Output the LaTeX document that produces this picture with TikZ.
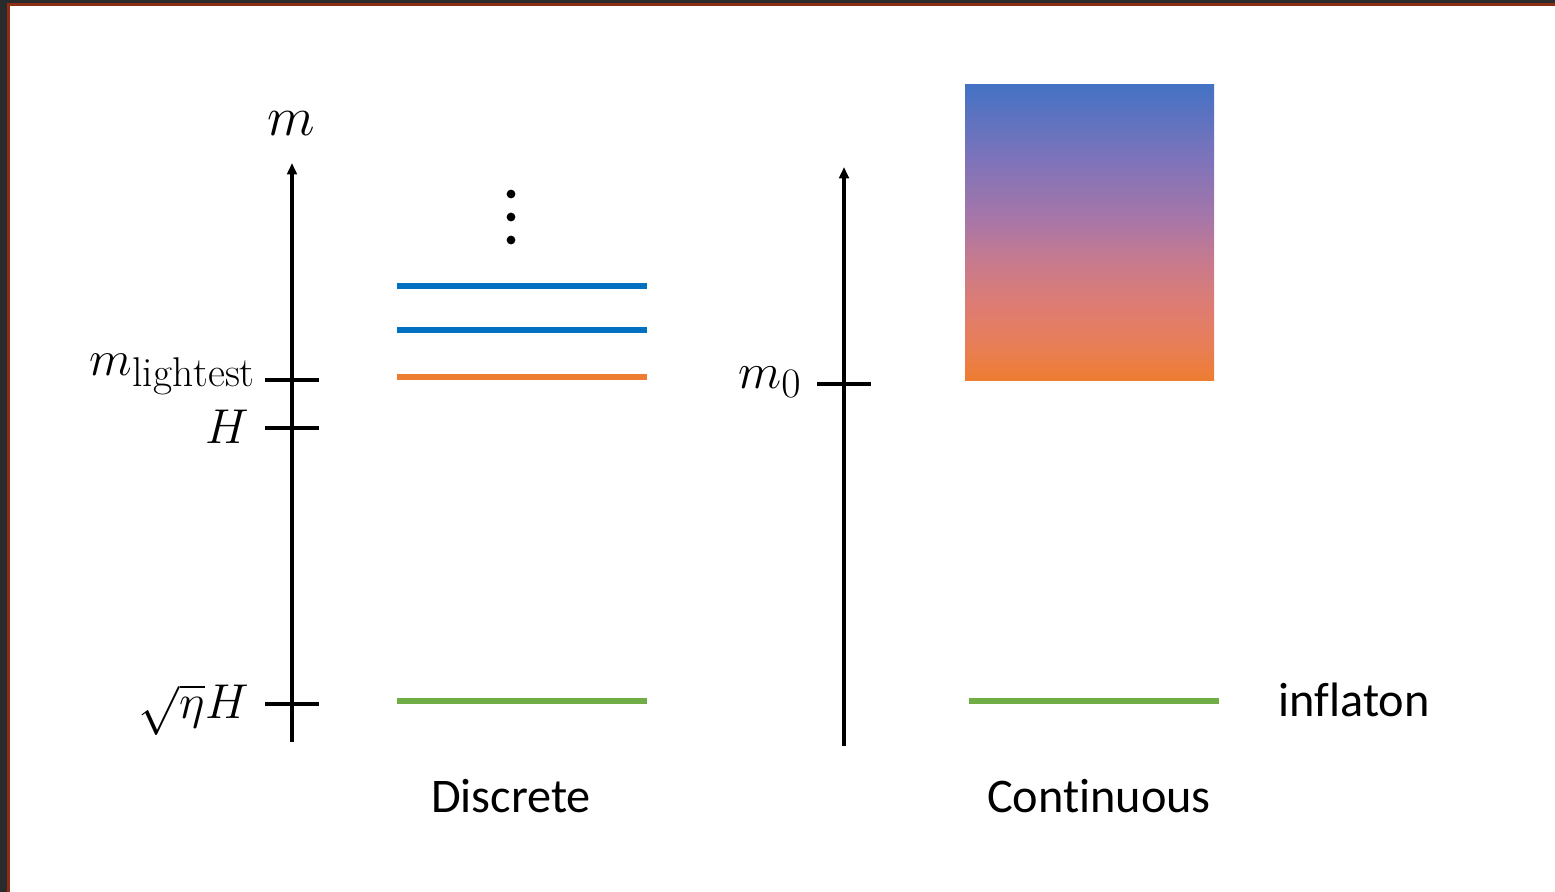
\documentclass[tikz,border=0pt]{standalone}
\usepackage{graphicx}
\usepackage{fontspec}
\setsansfont{Carlito}[Ligatures=NoCommon]
\usetikzlibrary{arrows.meta}
\definecolor{bgdark}{HTML}{2A2B2D}
\definecolor{framered}{HTML}{8C2D14}
\definecolor{lblue}{HTML}{0070C0}
\definecolor{lorange}{HTML}{ED7D31}
\definecolor{lgreen}{HTML}{70AD47}
\definecolor{gA}{HTML}{4472C4}
\definecolor{gB}{HTML}{7D73BA}
\definecolor{gC}{HTML}{A676A8}
\definecolor{gD}{HTML}{C87A8D}
\definecolor{gE}{HTML}{DE7C72}
\definecolor{gF}{HTML}{E87E58}
\definecolor{gG}{HTML}{ED7D31}
\pgfdeclareverticalshading{spectrum}{100bp}{color(0bp)=(gG); color(25bp)=(gG); color(31bp)=(gF); color(37.5bp)=(gE); color(45bp)=(gD); color(52.5bp)=(gC); color(62.5bp)=(gB); color(75bp)=(gA); color(100bp)=(gA)}
\newcommand{\bigmath}[2]{\scalebox{#1}{$#2$}}
\tikzset{
  axisline/.style={line width=2.1pt,-{Triangle[length=6.5pt,width=5.5pt]}},
  tickline/.style={line width=2.1pt},
  level/.style={line width=3.3pt},
  mathlbl/.style={font=\fontsize{24.88}{30}\selectfont,inner sep=0pt},
  txt/.style={font=\sffamily\fontsize{27.5}{33}\selectfont,inner sep=0pt},
  dotnode/.style={circle,fill=black,inner sep=0pt,minimum size=5pt}
}
\begin{document}
\begin{tikzpicture}[x=0.02cm,y=-0.02cm]
\useasboundingbox (0,0) rectangle (1555,892);
\fill[bgdark] (0,0) rectangle (1555,892);
\fill[framered] (7,3) rectangle (1555,892);
\fill[white] (10,6) rectangle (1555,892);
% left axis
\coordinate (lb) at (292,742);
\coordinate (lt) at (292,163);
\draw[axisline] (lb) -- (lt);
\node[mathlbl] (mlab) at (291,124) {\bigmath{1.27}{m}};
\coordinate (t1a) at (265,380); \coordinate (t1b) at (319,380);
\coordinate (t2a) at (265,428); \coordinate (t2b) at (319,428);
\coordinate (t3a) at (265,704); \coordinate (t3b) at (319,704);
\draw[tickline] (t1a) -- (t1b);
\draw[tickline] (t2a) -- (t2b);
\draw[tickline] (t3a) -- (t3b);
\node[mathlbl,anchor=base east] (ml) at (256,375) {\bigmath{1.14}{m_{\mathrm{lightest}}}};
\node[mathlbl,anchor=base east] (hl) at (249,443) {\bigmath{1.12}{H}};
\node[mathlbl,anchor=base east] (sl) at (249,718) {\bigmath{1.12}{\sqrt{\eta}H}};
% discrete levels
\node[dotnode] (d1) at (511,194) {};
\node[dotnode] (d2) at (511,217) {};
\node[dotnode] (d3) at (511,240) {};
\coordinate (b1a) at (397,286); \coordinate (b1b) at (647,286);
\coordinate (b2a) at (397,330); \coordinate (b2b) at (647,330);
\coordinate (o1a) at (397,377); \coordinate (o1b) at (647,377);
\coordinate (g1a) at (397,701); \coordinate (g1b) at (647,701);
\draw[level,lblue] (b1a) -- (b1b);
\draw[level,lblue] (b2a) -- (b2b);
\draw[level,lorange] (o1a) -- (o1b);
\draw[level,lgreen] (g1a) -- (g1b);
\node[txt] (disc) at (511,796) {Discrete};
% right axis
\coordinate (rb) at (844,746);
\coordinate (rt) at (844,167);
\draw[axisline] (rb) -- (rt);
\coordinate (t4a) at (817,384); \coordinate (t4b) at (871,384);
\draw[tickline] (t4a) -- (t4b);
\node[mathlbl,anchor=base east] (m0) at (802,388) {\bigmath{1.15}{m_0}};
\shade[shading=spectrum] (965,85) rectangle (1214,380);
\coordinate (g2a) at (969,701); \coordinate (g2b) at (1219,701);
\draw[level,lgreen] (g2a) -- (g2b);
\node[txt,anchor=west] (infl) at (1278,700) {inflaton};
\node[txt] (cont) at (1099,796) {Continuous};
\end{tikzpicture}
\end{document}
